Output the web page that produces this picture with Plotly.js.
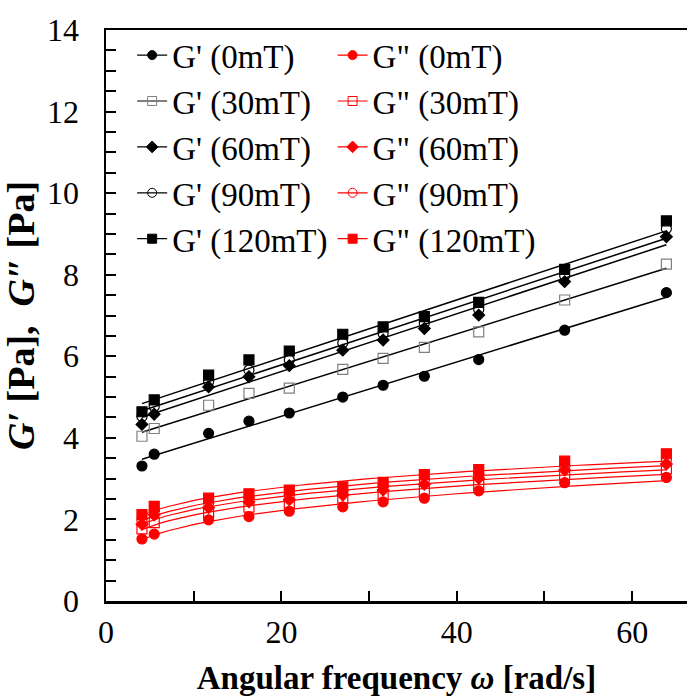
<!DOCTYPE html>
<html>
<head>
<meta charset="utf-8">
<script src="https://cdn.plot.ly/plotly-3.0.1.min.js"></script>
<style>html,body{margin:0;padding:0;background:#fff;}
#chart{width:687px;height:696px;}</style>
</head>
<body>
<div id="chart"></div>
<script>
// Angular frequency (rad/s)
const omega = [4.1, 5.5, 11.7, 16.3, 20.9, 27.0, 31.6, 36.3, 42.5, 52.3, 63.9];
// Storage modulus G' (Pa)
const Gp0   = [3.31, 3.60, 4.11, 4.41, 4.61, 5.00, 5.29, 5.51, 5.92, 6.64, 7.56];
const Gp30  = [4.04, 4.23, 4.80, 5.09, 5.22, 5.68, 5.95, 6.22, 6.60, 7.38, 8.26];
const Gp60  = [4.33, 4.58, 5.25, 5.50, 5.77, 6.15, 6.40, 6.68, 7.01, 7.83, 8.93];
const Gp90  = [4.52, 4.77, 5.38, 5.66, 5.91, 6.33, 6.56, 6.81, 7.15, 7.98, 9.13];
const Gp120 = [4.64, 4.93, 5.54, 5.91, 6.13, 6.54, 6.72, 6.97, 7.32, 8.13, 9.32];
// Loss modulus G'' (Pa)
const Gpp0   = [1.52, 1.64, 1.99, 2.07, 2.20, 2.31, 2.43, 2.52, 2.70, 2.90, 3.03];
const Gpp30  = [1.77, 1.92, 2.17, 2.30, 2.40, 2.52, 2.60, 2.70, 2.86, 3.10, 3.24];
const Gpp60  = [1.88, 2.11, 2.29, 2.43, 2.48, 2.60, 2.72, 2.86, 3.01, 3.21, 3.36];
const Gpp90  = [1.97, 2.20, 2.40, 2.52, 2.60, 2.71, 2.82, 2.96, 3.10, 3.30, 3.46];
const Gpp120 = [2.12, 2.32, 2.52, 2.63, 2.72, 2.80, 2.91, 3.10, 3.22, 3.43, 3.61];

const fields = ["0mT", "30mT", "60mT", "90mT", "120mT"];
const GpSeries = [Gp0, Gp30, Gp60, Gp90, Gp120];
const GppSeries = [Gpp0, Gpp30, Gpp60, Gpp90, Gpp120];

const symbols = ["circle", "square-open", "diamond", "circle-open", "square"];
const sizes = [10, 10, 9, 10, 10];
const GpColors = ["#000000", "#7f7f7f", "#000000", "#000000", "#000000"];
const GppColor = "#ff0000";

function linFit(x, y) {
  const n = x.length;
  let sx = 0, sy = 0, sxx = 0, sxy = 0;
  for (let i = 0; i < n; i++) { sx += x[i]; sy += y[i]; sxx += x[i]*x[i]; sxy += x[i]*y[i]; }
  const b = (n*sxy - sx*sy) / (n*sxx - sx*sx);
  const a = (sy - b*sx) / n;
  return {a, b};
}
function linearTrend(x, y) {
  const f = linFit(x, y);
  const xs = [Math.min(...x), Math.max(...x)];
  return {x: xs, y: xs.map(v => f.a + f.b*v)};
}
function powerTrend(x, y) {
  const f = linFit(x.map(Math.log), y.map(Math.log));
  const x0 = Math.min(...x), x1 = Math.max(...x);
  const xs = [], ys = [];
  for (let i = 0; i <= 60; i++) {
    const v = x0 + (x1 - x0) * i / 60;
    xs.push(v); ys.push(Math.exp(f.a) * Math.pow(v, f.b));
  }
  return {x: xs, y: ys};
}

const FAM = "Liberation Serif";

const traces = [];
GpSeries.forEach((s) => {
  const t = linearTrend(omega, s);
  traces.push({x: t.x, y: t.y, mode: "lines", line: {color: "#000", width: 1.5},
               showlegend: false, hoverinfo: "skip"});
});
GppSeries.forEach((s) => {
  const t = powerTrend(omega, s);
  traces.push({x: t.x, y: t.y, mode: "lines", line: {color: GppColor, width: 1.2},
               showlegend: false, hoverinfo: "skip"});
});
GpSeries.forEach((s, i) => {
  traces.push({x: omega, y: s, mode: "markers", showlegend: false,
    marker: {symbol: symbols[i], size: sizes[i], color: GpColors[i], line: {color: GpColors[i], width: 1.2}}});
});
GppSeries.forEach((s, i) => {
  traces.push({x: omega, y: s, mode: "markers", showlegend: false,
    marker: {symbol: symbols[i], size: sizes[i], color: GppColor, line: {color: GppColor, width: 1.2}}});
});
fields.forEach((f, i) => {
  traces.push({x: [null], y: [null], mode: "lines+markers", name: "G' (" + f + ")", legend: "legend",
    line: {color: "#000", width: 1.2},
    marker: {symbol: symbols[i], size: 9, color: GpColors[i], line: {color: GpColors[i], width: 1}}});
});
fields.forEach((f, i) => {
  traces.push({x: [null], y: [null], mode: "lines+markers", name: 'G" (' + f + ")", legend: "legend2",
    line: {color: GppColor, width: 1.2},
    marker: {symbol: symbols[i], size: 9, color: GppColor, line: {color: GppColor, width: 1}}});
});

const layout = {
  width: 687, height: 696,
  margin: {l: 106, r: 0, t: 30, b: 95},
  paper_bgcolor: "#fff", plot_bgcolor: "#fff",
  font: {family: FAM, size: 32, color: "#000"},
  xaxis: {
    showline: true, linewidth: 2.5, linecolor: "#000",
    ticks: "inside", ticklen: 10, tickwidth: 2, tickcolor: "#000",
    showgrid: false, zeroline: false,
    tickfont: {family: FAM, size: 32, color: "#000"},
    range: [0, 66.25], tick0: 0, dtick: 20, mirror: true,
    minor: {dtick: 10, ticks: "inside", ticklen: 10, tickwidth: 2, tickcolor: "#000"},
    ticklabelstandoff: 1,
    title: {text: "<b>Angular frequency <i>ω</i> [rad/s]</b>", font: {family: FAM, size: 33, color: "#000"}, standoff: 20}
  },
  yaxis: {
    showline: true, linewidth: 2.5, linecolor: "#000",
    ticks: "inside", ticklen: 10, tickwidth: 2, tickcolor: "#000",
    showgrid: false, zeroline: false,
    tickfont: {family: FAM, size: 32, color: "#000"},
    range: [0, 14], tick0: 0, dtick: 2,
    minor: {dtick: 0.5, ticks: "inside", ticklen: 10, tickwidth: 2, tickcolor: "#000"},
    ticklabelstandoff: 18,
    title: {text: "<b><i>G′</i>&nbsp;[Pa],&nbsp;&nbsp;<i>G″</i>&nbsp;[Pa]</b>", font: {family: FAM, size: 38, color: "#000"}, standoff: 6}
  },
  legend: {x: 0.045, y: 1.005, xanchor: "left", yanchor: "top", bgcolor: "rgba(0,0,0,0)",
           font: {family: FAM, size: 33, color: "#000"}, itemwidth: 30},
  legend2: {x: 0.39, y: 1.005, xanchor: "left", yanchor: "top", bgcolor: "rgba(0,0,0,0)",
           font: {family: FAM, size: 33, color: "#000"}, itemwidth: 30},
  showlegend: true
};

Plotly.newPlot("chart", traces, layout, {staticPlot: true, displayModeBar: false});
</script>
</body>
</html>
